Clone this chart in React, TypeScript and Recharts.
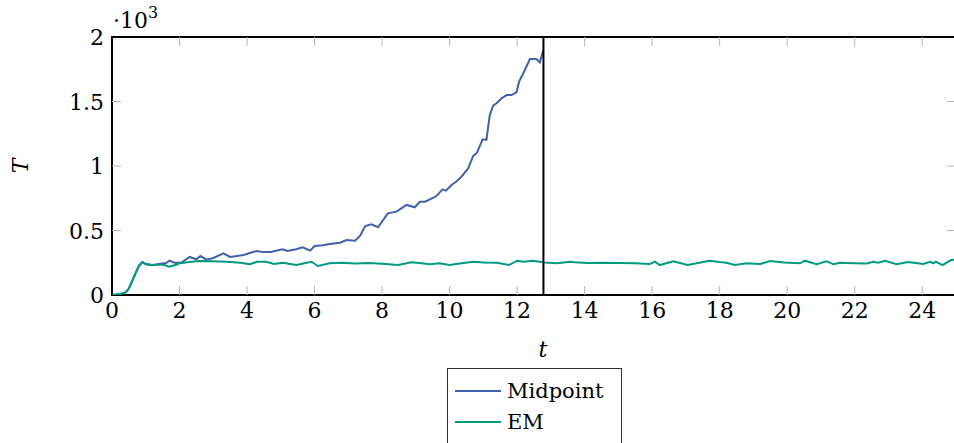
import React from "react";
import {
  LineChart,
  Line,
  XAxis,
  YAxis,
  ReferenceLine,
  ReferenceArea,
} from "recharts";

// Midpoint run (blows up near t = 12.8)
const midT = [
  0, 0.2, 0.4, 0.5, 0.6, 0.7, 0.8, 0.9, 1.0, 1.2, 1.4, 1.6, 1.7, 1.85, 2.05, 2.3, 2.5, 2.62, 2.8, 3.0,
  3.3, 3.5, 3.9, 4.1, 4.3, 4.4, 4.7, 5.05, 5.2, 5.45, 5.65, 5.87, 6.0, 6.25, 6.45, 6.75, 6.95, 7.2,
  7.35, 7.5, 7.68, 7.88, 8.17, 8.43, 8.72, 8.97, 9.12, 9.27, 9.45, 9.61, 9.79, 9.89, 10.06, 10.2,
  10.35, 10.55, 10.7, 10.81, 10.98, 11.09, 11.19, 11.29, 11.39, 11.54, 11.69, 11.83, 11.98, 12.06,
  12.23, 12.38, 12.57, 12.67, 12.78,
];
const midV = [
  0, 5, 20, 50, 110, 170, 230, 256, 240, 232, 240, 248, 266, 250, 250, 295, 277, 302, 274, 287,
  323, 295, 310, 328, 341, 335, 333, 354, 341, 355, 370, 344, 380, 385, 395, 405, 426, 421,
  460, 535, 548, 525, 633, 646, 698, 680, 723, 723, 745, 767, 819, 809, 853, 880,
  917, 982, 1078, 1103, 1207, 1202, 1395, 1468, 1486, 1525, 1550, 1550, 1571, 1654,
  1744, 1829, 1829, 1804, 1900,
];

// EM run
const emT = [
  0, 0.2, 0.4, 0.5, 0.6, 0.7, 0.8, 0.9, 1.0, 1.2, 1.4, 1.55, 1.7, 1.9, 2.0, 2.3, 2.6, 3.0, 3.4, 3.8,
  4.08, 4.3, 4.57, 4.8, 5.06, 5.46, 5.7, 5.91, 6.1, 6.45, 6.8, 7.2, 7.6, 8.0, 8.47, 8.87, 9.1, 9.41,
  9.7, 10.0, 10.3, 10.7, 11.0, 11.4, 11.76, 12.0, 12.2, 12.47, 12.8, 13.2, 13.56, 13.7, 14.1, 14.5,
  15.0, 15.5, 15.93, 16.08, 16.23, 16.62, 17.05, 17.4, 17.7, 18.0, 18.2, 18.45, 18.8, 19.2, 19.49,
  19.9, 20.38, 20.52, 20.87, 21.17, 21.37, 21.56, 22.0, 22.35, 22.55, 22.7, 22.9, 23.24, 23.58,
  24.03, 24.23, 24.33, 24.4, 24.6, 24.85, 25.0,
];
const emV = [
  0, 5, 20, 50, 110, 170, 225, 255, 238, 230, 236, 232, 220, 235, 246, 255, 264, 262, 258, 250,
  238, 258, 258, 240, 250, 232, 246, 258, 225, 246, 250, 244, 248, 242, 232, 253, 248, 238,
  246, 232, 244, 258, 252, 250, 232, 266, 258, 266, 252, 246, 258, 254, 248, 250,
  248, 246, 240, 258, 232, 261, 232, 250, 266, 255, 250, 232, 246, 240, 264,
  252, 246, 266, 238, 261, 238, 250, 246, 244, 258, 250, 266, 238, 256,
  240, 258, 246, 258, 232, 271, 275,
];

const blowupT = 12.78;
const xTicks = [0, 2, 4, 6, 8, 10, 12, 14, 16, 18, 20, 22, 24];
const yTicks = [0, 500, 1000, 1500, 2000];
const yTickLabels = ["0", "0.5", "1", "1.5", "2"];
const seriesNames = ["Midpoint", "EM"];

const midData = midT.map((t, i) => ({ t, v: midV[i] }));
const emData = emT.map((t, i) => ({ t, v: emV[i] }));

const BLUE = "#4060ad";
const TEAL = "#009a80";
const FONT = "'DejaVu Serif', serif";
const PLOT = { left: 112, right: 956, top: 37, bottom: 295 };
const TICK_LEN = 9;
const TICK_GRAY = "#b4b4b4";

function XTick(props: any) {
  const { x, payload } = props;
  const v = payload.value;
  return (
    <g>
      {v !== 0 && (
        <>
          <line x1={x} x2={x} y1={PLOT.bottom} y2={PLOT.bottom - TICK_LEN} stroke={TICK_GRAY} />
          <line x1={x} x2={x} y1={PLOT.top} y2={PLOT.top + TICK_LEN} stroke={TICK_GRAY} />
        </>
      )}
      <text x={x} y={318} textAnchor="middle" style={{ fontFamily: FONT }} fontSize={22} fill="#000">
        {v}
      </text>
    </g>
  );
}

function YTick(props: any) {
  const { y, payload } = props;
  const v = payload.value;
  const i = yTicks.indexOf(v);
  return (
    <g>
      {v !== 0 && v !== 2000 && (
        <>
          <line x1={PLOT.left} x2={PLOT.left + TICK_LEN} y1={y} y2={y} stroke={TICK_GRAY} />
          <line x1={PLOT.right - TICK_LEN} x2={PLOT.right} y1={y} y2={y} stroke={TICK_GRAY} />
        </>
      )}
      <text x={104} y={y + 8} textAnchor="end" style={{ fontFamily: FONT }} fontSize={22} fill="#000">
        {yTickLabels[i]}
      </text>
    </g>
  );
}

const renderYLabel = () => (
  <g style={{ fontFamily: FONT }}>
    <text
      x={20}
      y={166}
      transform="rotate(-90 20 166)"
      textAnchor="middle"
      dominantBaseline="central"
      fontStyle="italic"
      fontSize={22}
    >
      T
    </text>
    <text x={113} y={28} fontSize={22}>
      ·10
      <tspan dy={-10} fontSize={16}>
        3
      </tspan>
    </text>
  </g>
);

const renderXLabel = () => (
  <text x={543} y={357} textAnchor="middle" style={{ fontFamily: FONT }} fontStyle="italic" fontSize={22}>
    t
  </text>
);

function LegendBox() {
  const colors = [BLUE, TEAL];
  return (
    <div
      style={{
        position: "absolute",
        left: 447,
        top: 368,
        width: 175,
        height: 90,
        border: "1.5px solid #333",
        background: "#fff",
        fontFamily: FONT,
        fontSize: 21,
        boxSizing: "border-box",
      }}
    >
      {seriesNames.map((name, k) => (
        <div key={k} style={{ display: "flex", alignItems: "center", height: 31, marginTop: k === 0 ? 6 : 0 }}>
          <div style={{ width: 46, height: 2, background: colors[k], marginLeft: 7, marginRight: 6 }} />
          <span>{name}</span>
        </div>
      ))}
    </div>
  );
}

export default function App() {
  return (
    <div style={{ position: "absolute", left: 0, top: 0, width: 954, height: 443, overflow: "hidden", background: "#fff" }}>
      <LineChart width={1000} height={443} margin={{ top: PLOT.top, right: 1000 - PLOT.right, left: 0, bottom: 118 }}>
        <XAxis
          dataKey="t"
          type="number"
          domain={[0, 25]}
          ticks={xTicks}
          interval={0}
          tick={<XTick />}
          tickLine={false}
          axisLine={false}
          height={30}
          allowDataOverflow
          label={{ content: renderXLabel }}
        />
        <YAxis
          type="number"
          domain={[0, 2000]}
          ticks={yTicks}
          interval={0}
          tick={<YTick />}
          tickLine={false}
          axisLine={false}
          width={PLOT.left}
          allowDataOverflow
          label={{ content: renderYLabel }}
        />
        <ReferenceArea x1={0} x2={25} y1={0} y2={2000} fill="none" stroke="#000" strokeWidth={2} />
        <Line
          data={midData}
          dataKey="v"
          name={seriesNames[0]}
          type="linear"
          stroke={BLUE}
          strokeWidth={2}
          dot={false}
          isAnimationActive={false}
        />
        <Line
          data={emData}
          dataKey="v"
          name={seriesNames[1]}
          type="linear"
          stroke={TEAL}
          strokeWidth={2}
          dot={false}
          isAnimationActive={false}
        />
        <ReferenceLine x={blowupT} stroke="#000" strokeWidth={2} />
      </LineChart>
      <LegendBox />
    </div>
  );
}
